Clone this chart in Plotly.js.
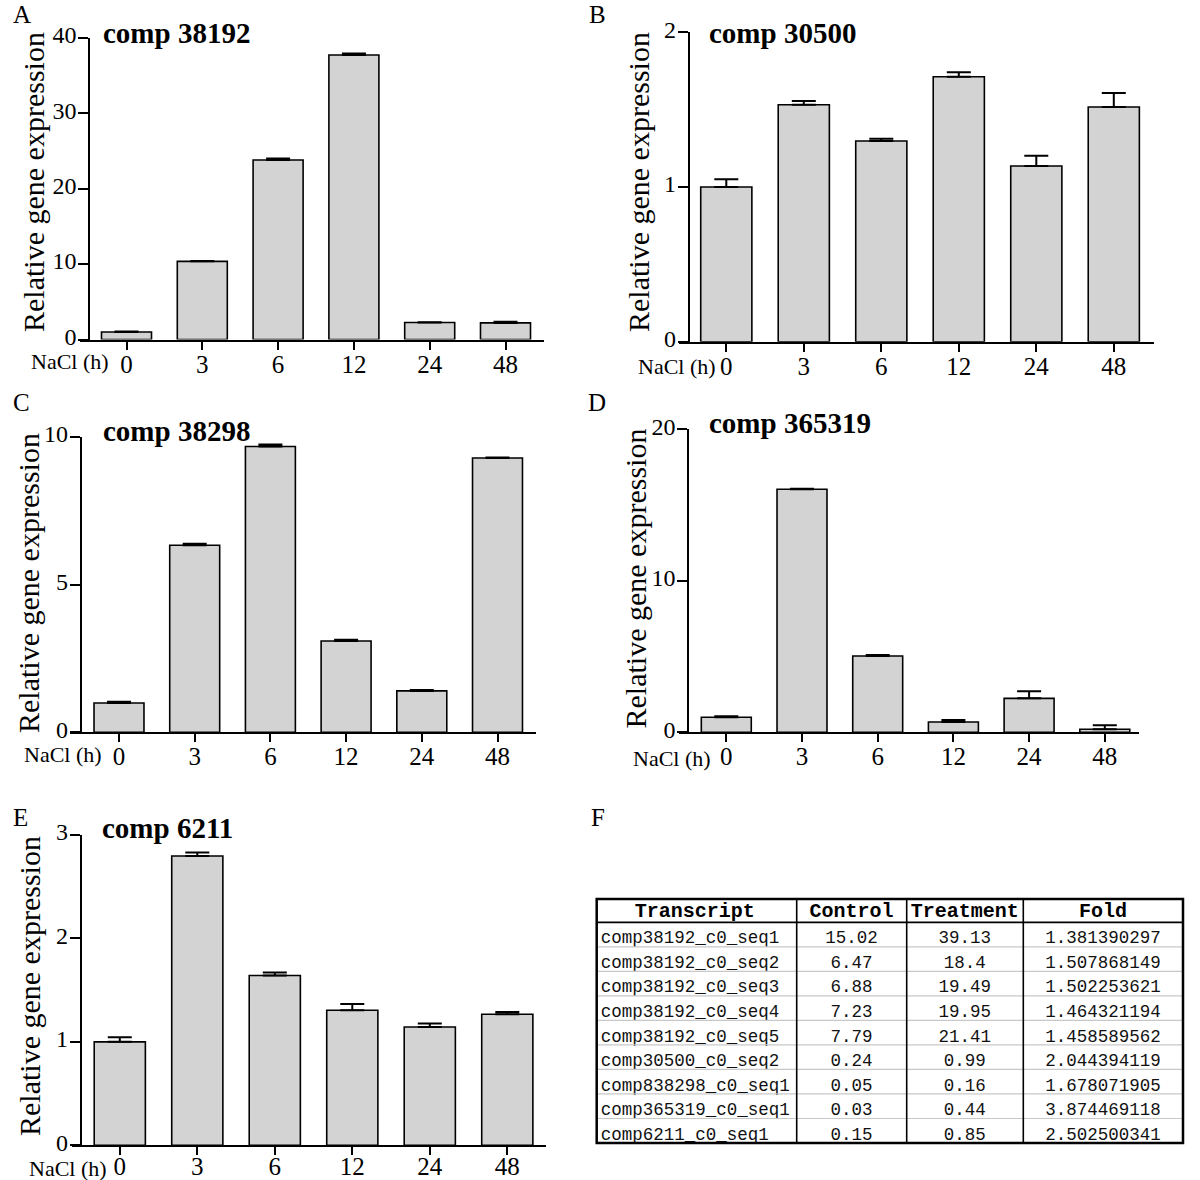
<!DOCTYPE html>
<html>
<head>
<meta charset="utf-8">
<script src="https://cdn.plot.ly/plotly-3.0.1.min.js"></script>
<style>html,body{margin:0;padding:0;background:#fff;}#chart{width:1200px;height:1180px;}</style>
</head>
<body>
<div id="chart"></div>
<script>
// ---------- data ----------
const timeLabels = ['0', '3', '6', '12', '24', '48'];
const xAxisLabel = 'NaCl (h)';
const yAxisLabel = 'Relative gene expression';

const titleA = 'comp 38192';
const valuesA = [1.0, 10.36, 23.8, 37.7, 2.25, 2.2];
const errorsA = [0.05, 0.04, 0.2, 0.22, 0.05, 0.16];
const ticksA = [0, 10, 20, 30, 40];

const titleB = 'comp 30500';
const valuesB = [1.0, 1.532, 1.297, 1.713, 1.136, 1.517];
const errorsB = [0.05, 0.024, 0.015, 0.028, 0.066, 0.091];
const ticksB = [0, 1, 2];

const titleC = 'comp 38298';
const valuesC = [0.99, 6.33, 9.67, 3.09, 1.40, 9.28];
const errorsC = [0.04, 0.045, 0.07, 0.045, 0.035, 0.02];
const ticksC = [0, 5, 10];

const titleD = 'comp 365319';
const valuesD = [0.99, 16.04, 5.04, 0.68, 2.24, 0.2];
const errorsD = [0.07, 0.03, 0.07, 0.13, 0.47, 0.26];
const ticksD = [0, 10, 20];

const titleE = 'comp 6211';
const valuesE = [1.0, 2.797, 1.641, 1.306, 1.144, 1.267];
const errorsE = [0.045, 0.033, 0.03, 0.06, 0.033, 0.022];
const ticksE = [0, 1, 2, 3];

const panelLetters = ['A', 'B', 'C', 'D', 'E', 'F'];

const tableHeader = ['Transcript', 'Control', 'Treatment', 'Fold'];
const tableTranscript = ['comp38192_c0_seq1', 'comp38192_c0_seq2', 'comp38192_c0_seq3', 'comp38192_c0_seq4', 'comp38192_c0_seq5', 'comp30500_c0_seq2', 'comp838298_c0_seq1', 'comp365319_c0_seq1', 'comp6211_c0_seq1'];
const tableControl = [15.02, 6.47, 6.88, 7.23, 7.79, 0.24, 0.05, 0.03, 0.15];
const tableTreatment = [39.13, 18.4, 19.49, 19.95, 21.41, 0.99, 0.16, 0.44, 0.85];
const tableFold = [1.381390297, 1.507868149, 1.502253621, 1.464321194, 1.458589562, 2.044394119, 1.678071905, 3.874469118, 2.502500341];

// ---------- layout geometry (pixels) ----------
const W = 1200, H = 1180;
const panels = [
  {title: titleA, v: valuesA, e: errorsA, ticks: ticksA, ymax: 40, xl: 80, xr: 544, yax: 89.3, top: 37.7, bot: 339.5, cat0: 126.5, sp: 75.8,
   letter: [22, 14], ttl: [101, 33.5], ylab: [33, 182], nacl: [111, 362], xstand: -7},
  {title: titleB, v: valuesB, e: errorsB, ticks: ticksB, ymax: 2, xl: 678.5, xr: 1153.8, yax: 688.8, top: 32.3, bot: 341.7, cat0: 726.3, sp: 77.5,
   letter: [597, 14], ttl: [707, 33.5], ylab: [638, 182], nacl: [718, 366], xstand: -7},
  {title: titleC, v: valuesC, e: errorsC, ticks: ticksC, ymax: 10, xl: 70, xr: 535.8, yax: 80.8, top: 436.7, bot: 732.3, cat0: 119, sp: 75.7,
   letter: [21, 402], ttl: [101, 431], ylab: [29, 583], nacl: [104, 754], xstand: -7},
  {title: titleD, v: valuesD, e: errorsD, ticks: ticksD, ymax: 20, xl: 679.2, xr: 1138.8, yax: 688.4, top: 429.3, bot: 732.3, cat0: 726.3, sp: 75.7,
   letter: [597, 402], ttl: [707, 422.5], ylab: [634.5, 579], nacl: [713, 758], xstand: -7},
  {title: titleE, v: valuesE, e: errorsE, ticks: ticksE, ymax: 3, xl: 72, xr: 546, yax: 80.8, top: 835, bot: 1145.3, cat0: 119.8, sp: 77.5,
   letter: [20, 818], ttl: [100, 828.5], ylab: [29, 986], nacl: [109, 1168], xstand: -10}
];
const px = x => x / W;
const py = y => 1 - y / H;

const serif = 'Liberation Serif, Times New Roman, serif';
const data = [];
const layout = {
  width: W, height: H,
  margin: {l: 0, r: 0, t: 0, b: 0},
  paper_bgcolor: '#ffffff', plot_bgcolor: 'rgba(0,0,0,0)',
  showlegend: false,
  font: {family: serif, color: '#000'},
  annotations: [],
  shapes: []
};

panels.forEach((p, i) => {
  const n = i + 1;
  const xk = 'xaxis' + (n === 1 ? '' : n), yk = 'yaxis' + (n === 1 ? '' : n);
  const xr = 'x' + (n === 1 ? '' : n), yr = 'y' + (n === 1 ? '' : n);
  data.push({
    type: 'bar', x: timeLabels, y: p.v, xaxis: xr, yaxis: yr,
    width: 0.66,
    marker: {color: '#d3d3d3', line: {color: '#000', width: 1.6}},
    error_y: {type: 'data', symmetric: false, array: p.e, arrayminus: p.v.map(() => 0), color: '#000', thickness: 2, width: 12},
    hoverinfo: 'skip'
  });
  const r0 = -(p.cat0 - p.xl) / p.sp;
  const r1 = r0 + (p.xr - p.xl) / p.sp;
  layout[xk] = {
    domain: [px(p.xl), px(p.xr)], anchor: yr, type: 'category', range: [r0, r1],
    showline: true, linewidth: 2, linecolor: '#000', ticks: 'outside', ticklen: 8, tickwidth: 2, tickcolor: '#000',
    ticklabelstandoff: p.xstand,
    showgrid: false, zeroline: false, tickfont: {family: serif, size: 25, color: '#000'}, fixedrange: true
  };
  layout[yk] = {
    domain: [py(p.bot), py(p.top)], anchor: 'free', position: px(p.yax), range: [0, p.ymax],
    tickmode: 'array', tickvals: p.ticks, ticktext: p.ticks.map(String),
    showline: true, linewidth: 2, linecolor: '#000', ticks: 'outside', ticklen: 10, tickwidth: 2, tickcolor: '#000',
    ticklabelstandoff: -3, ticklabelshift: -3,
    showgrid: false, zeroline: false, tickfont: {family: serif, size: 24, color: '#000'}, fixedrange: true
  };
  layout.annotations.push(
    {text: panelLetters[i], xref: 'paper', yref: 'paper', x: px(p.letter[0]), y: py(p.letter[1]), xanchor: 'center', yanchor: 'middle', showarrow: false, font: {family: serif, size: 25, color: '#000'}},
    {text: '<b>' + p.title + '</b>', xref: 'paper', yref: 'paper', x: px(p.ttl[0]), y: py(p.ttl[1]), xanchor: 'left', yanchor: 'middle', showarrow: false, font: {family: serif, size: 29, color: '#000'}},
    {text: yAxisLabel, textangle: -90, xref: 'paper', yref: 'paper', x: px(p.ylab[0]), y: py(p.ylab[1]), xanchor: 'center', yanchor: 'middle', showarrow: false, font: {family: serif, size: 30, color: '#000'}},
    {text: xAxisLabel, xref: 'paper', yref: 'paper', x: px(p.nacl[0]), y: py(p.nacl[1]), xanchor: 'right', yanchor: 'middle', showarrow: false, font: {family: serif, size: 22, color: '#000'}}
  );
});

// panel F letter
layout.annotations.push({text: panelLetters[5], xref: 'paper', yref: 'paper', x: px(598), y: py(818), xanchor: 'center', yanchor: 'middle', showarrow: false, font: {family: serif, size: 25, color: '#000'}});

// ---------- table (panel F) ----------
const tL = 596.7, tR = 1183, tT = 899, tB = 1143, headH = 23.3;
const rowH = (tB - tT - headH) / tableTranscript.length;
const headLift = 5;   // invisible space above the header so its text sits centred
const padFix = 4;     // pull first-column text towards the left frame
const colEdges = [596.7, 796.7, 906.7, 1023.3, 1183];
const colW = colEdges.slice(1).map((e, k) => e - colEdges[k]);
colW[0] += padFix;
const mono = 'Liberation Mono, DejaVu Sans Mono, monospace';
data.push({
  type: 'table',
  domain: {x: [px(tL - padFix), px(tR)], y: [py(tB), py(tT - headLift)]},
  columnwidth: colW,
  header: {
    values: tableHeader, align: 'center', height: headH + headLift,
    font: {family: mono, size: 20, color: '#000', weight: 'bold'},
    fill: {color: 'rgba(0,0,0,0)'}, line: {color: 'rgba(0,0,0,0)', width: 0}
  },
  cells: {
    values: [tableTranscript, tableControl, tableTreatment, tableFold],
    align: ['left', 'center', 'center', 'center'], height: rowH,
    font: {family: mono, size: 17.5, color: '#111'},
    fill: {color: 'rgba(0,0,0,0)'}, line: {color: 'rgba(0,0,0,0)', width: 0}
  }
});
// light row rules
for (let k = 1; k < tableTranscript.length; k++) {
  const y = tT + headH + k * rowH;
  layout.shapes.push({type: 'line', xref: 'paper', yref: 'paper', x0: px(tL), x1: px(tR), y0: py(y), y1: py(y), line: {color: '#c8c8c8', width: 1.2}});
}
// dark column separators, header rule and outer frame
colEdges.slice(1, -1).forEach(x => {
  layout.shapes.push({type: 'line', xref: 'paper', yref: 'paper', x0: px(x), x1: px(x), y0: py(tT), y1: py(tB), line: {color: '#000', width: 1.6}});
});
layout.shapes.push({type: 'line', xref: 'paper', yref: 'paper', x0: px(tL), x1: px(tR), y0: py(tT + headH), y1: py(tT + headH), line: {color: '#000', width: 1.8}});
layout.shapes.push({type: 'rect', xref: 'paper', yref: 'paper', x0: px(tL), x1: px(tR), y0: py(tB), y1: py(tT), line: {color: '#000', width: 2.5}, fillcolor: 'rgba(0,0,0,0)'});

Plotly.newPlot('chart', data, layout, {displayModeBar: false, staticPlot: true});
</script>
</body>
</html>
